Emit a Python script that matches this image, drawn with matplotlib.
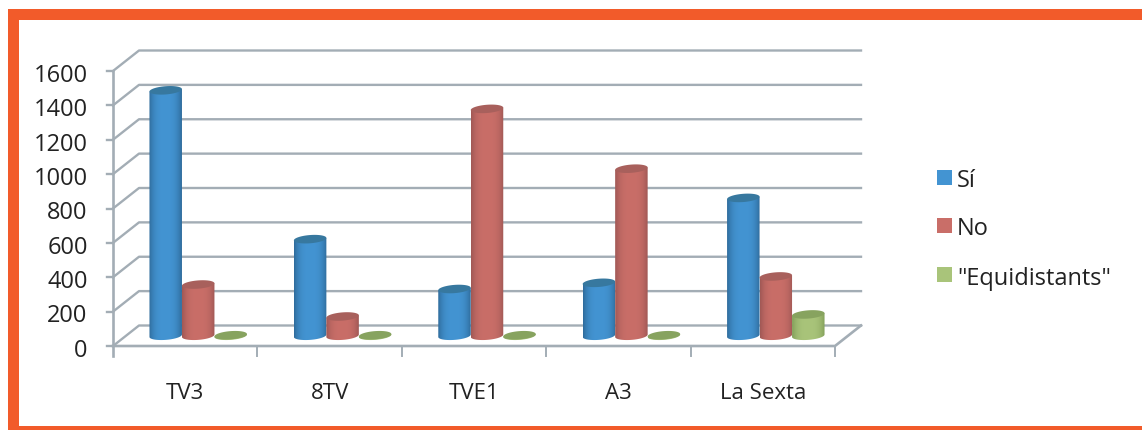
import matplotlib
matplotlib.use("Agg")
import matplotlib.pyplot as plt
from matplotlib.patches import Rectangle, Polygon
import numpy as np

plt.rcParams['font.family'] = ['Open Sans', 'DejaVu Sans']

categories = ['TV3', '8TV', 'TVE1', 'A3', 'La Sexta']
si = [1428, 562, 272, 308, 802]
no = [298, 112, 1320, 972, 345]
equidistants = [3, 3, 3, 3, 124]
y_ticks = [0, 200, 400, 600, 800, 1000, 1200, 1400, 1600]
series_names = ['Sí', 'No', '"Equidistants"']

W, H = 1142, 431
x0, x1 = 113, 835      # front floor edge, pixels
y0, y1 = 347, 72       # 0 and 1600 on the front edge, pixels
ORANGE = '#f25b2a'
GRID = '#a3adb5'
TXT = '#222222'

# side colours of the cylinders: dark edge, light middle, top ellipse
colors = [('#2f6c9c', '#4394d2', '#37789f'),
          ('#a05855', '#c96e68', '#a8605c'),
          ('#83a05a', '#a9c47a', '#87a35f')]

fig = plt.figure(figsize=(W / 100, H / 100), dpi=100)

# orange frame: left, top and bottom only
for fx, fy, fw, fh in [(8, 10, 11, 421), (8, 10, W - 8, 11), (8, 427, W - 8, 4)]:
    fig.patches.append(Rectangle((fx / W, 1 - (fy + fh) / H), fw / W, fh / H, transform=fig.transFigure,
                                 facecolor=ORANGE, edgecolor='none'))

ax = fig.add_axes([x0 / W, 1 - y0 / H, (x1 - x0) / W, (y0 - y1) / H], zorder=5)
ax.axis('off')

# depth of the 3d box in data units
n = len(categories)
dx = 26 / ((x1 - x0) / n)
dy = 20.5 / ((y0 - y1) / 1600)

# back wall, side wall and floor lines
for t in y_ticks:
    ax.plot([0, dx, n + dx], [t, t + dy, t + dy], color=GRID, lw=1.7, clip_on=False, zorder=1)
    ax.plot([-0.045, 0], [t, t], color=GRID, lw=1.7, clip_on=False, zorder=1)
ax.plot([0, 0], [-60, 1600], color=GRID, lw=1.9, clip_on=False, zorder=1)
ax.plot([0, n, n + dx], [0, 0, dy], color=GRID, lw=1.9, clip_on=False, zorder=1)
for i in range(1, n + 1):
    ax.plot([i, i], [-60, 0], color=GRID, lw=1.4, clip_on=False, zorder=1)

for t in y_ticks:
    ax.text(-0.175, t - 22, str(t), ha='right', va='center', fontsize=17, color=TXT)
for i, c in enumerate(categories):
    ax.text(i + 0.5, -270, c, ha='center', va='center', fontsize=16, color=TXT)

# cylinders
bw = 0.225
eh = 24     # half height of the ellipses, data units
tilt = 7    # right side of the ellipses sits higher
th = np.linspace(0, 2 * np.pi, 60)
grad = np.abs(np.linspace(-1, 1, 64)) ** 3
for s, vals in enumerate([si, no, equidistants]):
    dark, light, top = colors[s]
    cd = np.array(matplotlib.colors.to_rgb(dark))
    cl = np.array(matplotlib.colors.to_rgb(light))
    img = cl[None, None, :] * (1 - grad[None, :, None]) + cd[None, None, :] * grad[None, :, None]
    for i, v in enumerate(vals):
        cx = i + 0.5 + dx / 2 + (s - 1) * bw
        cy = dy / 2
        z = 3 + s * 0.1
        ex = bw / 2 * np.cos(th)
        ey = eh * np.sin(th) + tilt * np.cos(th)
        # body outline: lower half of the base ellipse, then up to the top
        lower = th[(th >= np.pi) & (th <= 2 * np.pi)]
        lx = cx + bw / 2 * np.cos(lower)
        ly = cy + eh * np.sin(lower) + tilt * np.cos(lower)
        body = Polygon(np.column_stack([np.r_[lx, cx + bw / 2, cx - bw / 2],
                                        np.r_[ly, cy + v + tilt, cy + v - tilt]]),
                       transform=ax.transData, facecolor='none', edgecolor='none')
        ax.add_patch(body)
        im = ax.imshow(img, extent=[cx - bw / 2, cx + bw / 2, cy - 60, cy + v + 60], aspect='auto', zorder=z)
        im.set_clip_path(body)
        ax.add_patch(Polygon(np.column_stack([cx + ex, cy + v + ey]), facecolor=top, edgecolor='none',
                             zorder=z + 0.05, clip_on=False))
ax.set_xlim(0, n)
ax.set_ylim(0, 1600)

# legend
box_tops = [171, 219, 268]
text_mid = [181, 229, 279]
for s, name in enumerate(series_names):
    fig.patches.append(Rectangle((937 / W, 1 - (box_tops[s] + 15) / H), 15 / W, 15 / H, transform=fig.transFigure,
                                 facecolor=colors[s][1], edgecolor='none'))
    fig.text(957 / W, 1 - text_mid[s] / H, name, ha='left', va='center', fontsize=17, color=TXT)

fig.savefig('out.png', dpi=100)
